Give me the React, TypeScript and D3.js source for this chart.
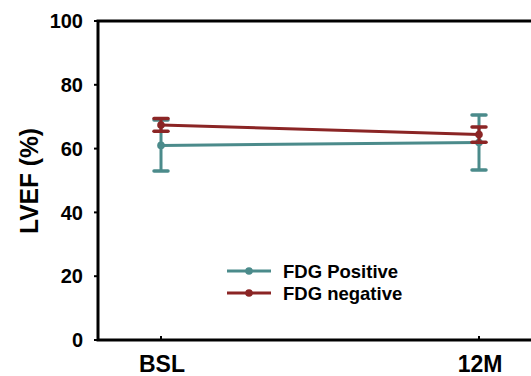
import * as d3 from "d3";

const timepoints = ["BSL", "12M"];
const positiveMean = [61.0, 61.9];
const positiveErr = [8.0, 8.6];
const negativeMean = [67.4, 64.4];
const negativeErr = [2.0, 2.4];
const yTicks = [0, 20, 40, 60, 80, 100];

const series = [
  { name: "FDG Positive", color: "#4b8b8b", mean: positiveMean, err: positiveErr },
  { name: "FDG negative", color: "#8b2525", mean: negativeMean, err: negativeErr },
];

export default function App() {
  const width = 531;
  const height = 376;
  const left = 98;
  const top = 21;
  const bottom = 340;

  const x = d3.scalePoint<string>().domain(timepoints).range([161, 479]);
  const y = d3.scaleLinear().domain([0, 100]).range([bottom, top]);

  const line = d3
    .line<number>()
    .x((_, i) => x(timepoints[i])!)
    .y((d) => y(d));

  const font = "'Liberation Sans', Arial, sans-serif";

  return (
    <div style={{ position: "absolute", left: 0, top: 0 }}>
      <svg width={width} height={height} style={{ display: "block", fontFamily: font }}>
        <rect width={width} height={height} fill="#fff" />

        {/* axes frame */}
        <path
          d={`M${width + 5},${top} H${left} V${bottom} H${width + 5}`}
          fill="none"
          stroke="#000"
          strokeWidth={3}
        />

        {/* y ticks */}
        {yTicks.map((t) => (
          <g key={t}>
            <line x1={left - 4} x2={left} y1={y(t)} y2={y(t)} stroke="#000" strokeWidth={2} />
            <text
              x={83}
              y={y(t)}
              dy="0.36em"
              textAnchor="end"
              fontSize={20}
              fontWeight="bold"
            >
              {t}
            </text>
          </g>
        ))}

        {/* x ticks */}
        {timepoints.map((c) => (
          <g key={c}>
            <line x1={x(c)} x2={x(c)} y1={bottom - 4} y2={bottom} stroke="#000" strokeWidth={2} />
            <text x={x(c)! + 1} y={372} textAnchor="middle" fontSize={23} fontWeight="bold">
              {c}
            </text>
          </g>
        ))}

        {/* y title */}
        <text
          transform={`translate(38,181) rotate(-90)`}
          textAnchor="middle"
          fontSize={26}
          fontWeight="bold"
          textLength={106}
          lengthAdjust="spacingAndGlyphs"
        >
          LVEF (%)
        </text>

        {/* series */}
        {series.map((s) => (
          <g key={s.name}>
            <path d={line(s.mean)!} fill="none" stroke={s.color} strokeWidth={3} />
            {s.mean.map((m, i) => {
              const cx = x(timepoints[i])!;
              const hi = y(m + s.err[i]);
              const lo = y(m - s.err[i]);
              return (
                <g key={i}>
                  <line x1={cx} x2={cx} y1={hi} y2={lo} stroke={s.color} strokeWidth={3} />
                  <line x1={cx - 7} x2={cx + 7} y1={hi} y2={hi} stroke={s.color} strokeWidth={3.5} strokeLinecap="round" />
                  <line x1={cx - 7} x2={cx + 7} y1={lo} y2={lo} stroke={s.color} strokeWidth={3.5} strokeLinecap="round" />
                  <circle cx={cx} cy={y(m)} r={3.8} fill={s.color} />
                </g>
              );
            })}
          </g>
        ))}

        {/* legend */}
        {series.map((s, i) => {
          const ly = 271 + i * 22;
          return (
            <g key={s.name}>
              <line x1={227} x2={271} y1={ly} y2={ly} stroke={s.color} strokeWidth={3} />
              <circle cx={249} cy={ly} r={3.8} fill={s.color} />
              <text x={283} y={ly} dy="0.36em" fontSize={18.5} fontWeight="bold">
                {s.name}
              </text>
            </g>
          );
        })}
      </svg>
    </div>
  );
}
